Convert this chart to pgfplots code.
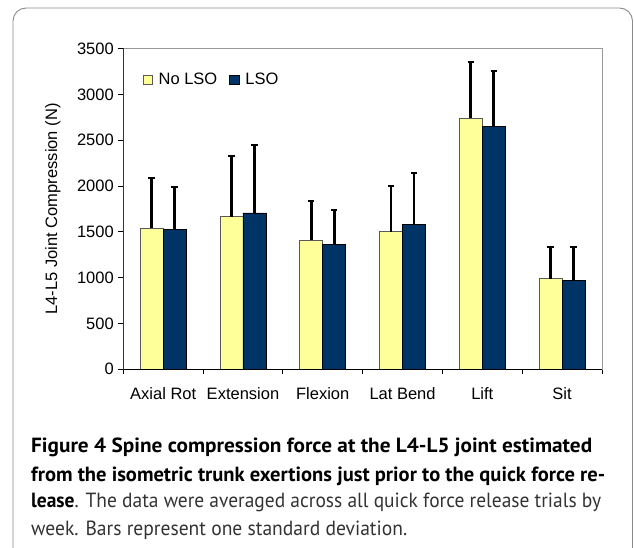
\documentclass[border=0pt]{standalone}
\usepackage{pgfplots}
\pgfplotsset{compat=1.18}
\usepackage{fontspec}
\usepackage{graphicx}
\setmainfont{Liberation Sans}
\newfontfamily\capfont{PT Sans}
\definecolor{byel}{HTML}{FFFF99}
\definecolor{bnavy}{HTML}{003366}
\definecolor{frame}{HTML}{8A8A8A}
\pgfplotsset{
  myerr/.style={
    error bars/.cd,
      y dir=plus, y explicit,
      error bar style={black, line width=2.8pt},
      error mark=|,
      error mark options={black, line width=2.2pt, mark size=3.2pt},
  }
}
\begin{document}
\begin{tikzpicture}[x=1pt,y=1pt]
\useasboundingbox (0,0) rectangle (634,547);
\draw[frame, line width=0.9pt, rounded corners=13pt] (13,-20) rectangle (632.5,539);
\begin{axis}[
  at={(123.3pt,177.7pt)}, anchor=south west,
  scale only axis, width=478.7pt, height=320.8pt,
  xmin=0.5, xmax=6.5, ymin=0, ymax=3500,
  ybar=0pt, bar width=23pt,
  ytick={0,500,...,3500},
  xtick={1,...,6},
  xticklabels={Axial Rot, Extension, Flexion, Lat Bend, Lift, Sit},
  minor xtick={0.5,1.5,...,6.5},
  major x tick style={draw=none},
  minor x tick style={black, line width=0.8pt},
  major y tick style={black, line width=0.8pt},
  tick align=outside, tick pos=left,
  major tick length=5pt, minor tick length=5pt,
  axis line style={draw=gray!80, line width=0.8pt},
  ticklabel style={font=\fontsize{16.5}{19}\selectfont},
  /pgf/number format/assume math mode=true,
  /pgf/number format/1000 sep={},
  yticklabel style={xshift=-1pt},
  xticklabel style={yshift=-10pt},
  ylabel={L4-L5 Joint Compression (N)},
  every axis y label/.style={at={(axis description cs:-0.147,0.5)}, rotate=90, anchor=center, font=\fontsize{16.5}{19}\selectfont},
  legend style={at={(axis description cs:0.040,0.929)}, anchor=north west, draw=none, fill=none,
     font=\fontsize{16.5}{19}\selectfont, inner sep=0pt,
     /tikz/every odd column/.append style={column sep=4pt},
     /tikz/every even column/.append style={column sep=10pt}},
  legend columns=2,
  legend image code/.code={\draw[#1, line width=0.6pt] (0pt,-4.7pt) rectangle (9.4pt,4.7pt);},
]
\addplot[fill=byel, draw=gray!70!black, line width=0.7pt, myerr] coordinates {
  (1,1539) +- (0,545)
  (2,1666) +- (0,659)
  (3,1408) +- (0,425)
  (4,1502) +- (0,502)
  (5,2743) +- (0,611)
  (6,989) +- (0,342)
};
\addlegendentry{No LSO}
\addplot[fill=bnavy, draw=black, line width=0.7pt, myerr] coordinates {
  (1,1524) +- (0,466)
  (2,1706) +- (0,739)
  (3,1364) +- (0,371)
  (4,1582) +- (0,560)
  (5,2652) +- (0,603)
  (6,967) +- (0,364)
};
\addlegendentry{LSO}
\draw[black, line width=0.9pt] (rel axis cs:0,1) -- (rel axis cs:0,0) -- (rel axis cs:1,0);
\end{axis}
\begin{scope}[every node/.style={anchor=base west, inner sep=0pt, font=\capfont\fontsize{20.5}{24}\selectfont, text=black!80}]
\node at (31,94.3) {\resizebox{561pt}{\height}{\textbf{\color{black}Figure 4 Spine compression force at the L4-L5 joint estimated}}};
\node at (31,66) {\resizebox{574pt}{\height}{\textbf{\color{black}from the isometric trunk exertions just prior to the quick force re-}}};
\node at (31,39.3) {\resizebox{570pt}{\height}{\textbf{\color{black}lease}. The data were averaged across all quick force release trials by}};
\node at (31,12) {\resizebox{376pt}{\height}{week. Bars represent one standard deviation.}};
\end{scope}
\end{tikzpicture}
\end{document}
